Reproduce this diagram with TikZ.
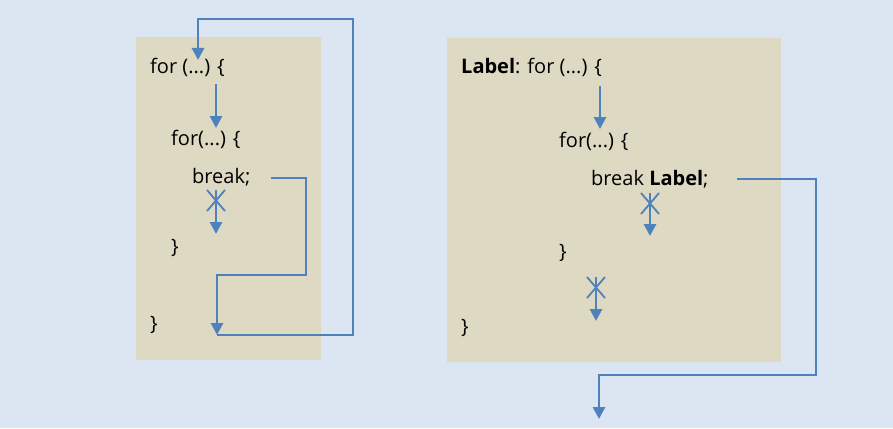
\documentclass[tikz,border=0pt]{standalone}
\usepackage{fontspec}
\setmainfont{Open Sans}
\usetikzlibrary{arrows.meta}
\definecolor{bgblue}{HTML}{DCE6F2}
\definecolor{codetan}{HTML}{DDD9C3}
\definecolor{flowblue}{HTML}{4F81BD}
\tikzset{
  code/.style={anchor=base west, inner sep=0pt, font=\fontsize{20}{20}\selectfont},
  flow/.style={draw=flowblue, line width=2.8pt, -{Triangle[width=12pt,length=12pt]}},
  cut/.style={draw=flowblue, line width=1.8pt},
}

\begin{document}
\begin{tikzpicture}[x=1pt,y=-1pt]
\fill[bgblue] (0,0) rectangle (893,428);
\useasboundingbox (0,0) rectangle (893,428);

% Plain break
\fill[codetan] (136,37) rectangle (321,360);
\node[code] (outerL) at (150,73) {for (...) \{};
\node[code] (innerL) at (171,145) {for(...) \{};
\node[code] (breakL) at (192,183) {break;};
\node[code] (closeiL) at (171,253) {\}};
\node[code] (closeoL) at (150,330) {\}};

\coordinate (inL1) at (216,84);
\coordinate (inL2) at (216,128);
\coordinate (skipL1) at (216,190);
\coordinate (skipL2) at (216,234);
\coordinate (brkL) at (271,178);
\coordinate (endL) at (217,335);
\coordinate (topL) at (198,60);

\draw[flow] (inL1) -- (inL2);
\draw[flow] (skipL1) -- (skipL2);
\draw[cut] (skipL1) ++(-9,0) -- ++(18,21) ++(0,-21) -- ++(-18,21);
\draw[flow] (brkL) -- ++(35,0) |- ++(-89,97) -- (endL);
\draw[flow] (endL) -- ++(136,0) |- (198,19) -- (topL);

% Labeled break
\begin{scope}
\fill[codetan] (447,38) rectangle (781,362);
\node[code] (outerR) at (461,73) {\textbf{Label}: for (...) \{};
\node[code] (innerR) at (559,147) {for(...) \{};
\node[code] (breakR) at (591,185) {break \textbf{Label};};
\node[code] (closeiR) at (559,258) {\}};
\node[code] (closeoR) at (461,333) {\}};

\coordinate (inR1) at (600,86);
\coordinate (inR2) at (600,129);
\coordinate (skipR1) at (650,193);
\coordinate (skipR2) at (650,236);
\coordinate (skipR3) at (596,277);
\coordinate (skipR4) at (596,321);
\coordinate (brkR) at (737,179);
\coordinate (outR) at (599,419);

\draw[flow] (inR1) -- (inR2);
\draw[flow] (skipR1) -- (skipR2);
\draw[cut] (skipR1) ++(-9,0) -- ++(18,21) ++(0,-21) -- ++(-18,21);
\draw[flow] (skipR3) -- (skipR4);
\draw[cut] (skipR3) ++(-9,0) -- ++(18,21) ++(0,-21) -- ++(-18,21);
\draw[flow] (brkR) -| (816,375) -| (outR);
\end{scope}

\end{tikzpicture}
\end{document}
